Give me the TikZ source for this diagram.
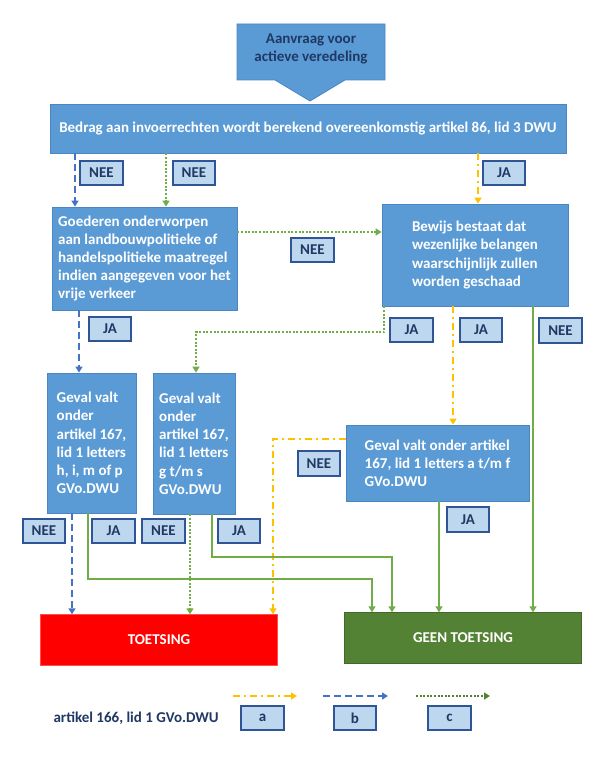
\documentclass[tikz,border=0pt]{standalone}
\usepackage{fontspec}
\setmainfont{Carlito}
\usetikzlibrary{arrows.meta}
\definecolor{vakblauw}{HTML}{5B9BD5}
\definecolor{vakrand}{HTML}{4A86C4}
\definecolor{labelblauw}{HTML}{BDD7EE}
\definecolor{labelrand}{HTML}{2F5597}
\definecolor{donkerblauw}{HTML}{203864}
\definecolor{geel}{HTML}{FFC000}
\definecolor{streepblauw}{HTML}{4472C4}
\definecolor{lichtgroen}{HTML}{70AD47}
\definecolor{donkergroen}{HTML}{548235}
\definecolor{groenrand}{HTML}{3F6B2A}
\tikzset{stap/.style={draw=vakrand, fill=vakblauw, text=white, align=left, inner sep=0pt, line width=0.8pt},
 keuze/.style={draw=labelrand, fill=labelblauw, text=donkerblauw, line width=1.6pt,
  minimum width=42.5pt, minimum height=24.5pt, inner sep=0pt},
 pijl/.style={line width=2pt, -{Triangle[width=7pt,length=6pt]}},
 geelpijl/.style={pijl, geel, dash pattern=on 7pt off 4pt on 2pt off 4pt},
 blauwpijl/.style={pijl, streepblauw, dash pattern=on 7pt off 4pt},
 stippijl/.style={pijl, lichtgroen, dash pattern=on 2pt off 1.6pt},
 groenpijl/.style={pijl, lichtgroen},
 uitkomst/.style={text=white, minimum width=237pt, minimum height=51pt, inner sep=0pt},
 }

\begin{document}
\begin{tikzpicture}[x=1pt, y=-1pt, font=\bfseries\fontsize{15}{18.2}\selectfont]
    \useasboundingbox[fill=white] (0,0) rectangle (606,757);
    \draw[vakrand, fill=vakblauw, line width=0.8pt] (237,24) -- (385,24) -- (385,80) -- (345,80)
        -- (310,101) -- (275,80) -- (237,80) -- cycle;
    \node[text=donkerblauw, align=center] (aanvraag) at (311,49) {Aanvraag voor\\actieve veredeling};
    \node[stap, minimum width=516pt, minimum height=49pt] (bedrag) at (308,128.5)
        {Bedrag aan invoerrechten wordt berekend overeenkomstig artikel 86, lid 3 DWU};
    \node[stap, minimum width=185pt, minimum height=103pt] (goed) at (144.5,258.5)
        {Goederen onderworpen\\aan landbouwpolitieke of\\handelspolitieke maatregel\\indien aangegeven voor het\\vrije verkeer};
    \node[stap, minimum width=186pt, minimum height=102pt] (bewijs) at (475,255)
        {Bewijs bestaat dat\\wezenlijke belangen\\waarschijnlijk zullen\\worden geschaad};
    \node[stap, minimum width=89pt, minimum height=140pt] (geval1) at (91.5,443)
        {Geval valt\\onder\\artikel 167,\\lid 1 letters\\h, i, m of p\\GVo.DWU};
    \node[stap, minimum width=82pt, minimum height=141pt] (geval2) at (194,443.5)
        {Geval valt\\onder\\artikel 167,\\lid 1 letters\\g t/m s\\GVo.DWU};
    \node[stap, minimum width=183pt, minimum height=76pt] (geval3) at (437.5,463)
        {Geval valt onder artikel\\167, lid 1 letters a t/m f\\GVo.DWU};
    \node[uitkomst, fill=red, draw=red!70!white] (toets) at (159,640) {TOETSING};
    \node[uitkomst, fill=donkergroen, draw=groenrand] (geen) at (463,638) {GEEN TOETSING};
    \node[keuze] (nee1) at (101.5,173) {NEE};
    \node[keuze] (nee2) at (194,173) {NEE};
    \node[keuze] (ja1) at (504,173) {JA};
    \node[keuze] (nee3) at (312.5,250) {NEE};
    \node[keuze] (ja2) at (110,329) {JA};
    \node[keuze] (ja3) at (411.5,330) {JA};
    \node[keuze] (ja4) at (481,330) {JA};
    \node[keuze] (nee4) at (560.5,330.5) {NEE};
    \node[keuze] (nee5) at (319,463.5) {NEE};
    \node[keuze] (nee6) at (44,531) {NEE};
    \node[keuze] (ja5) at (113.5,531) {JA};
    \node[keuze] (nee7) at (163.5,531) {NEE};
    \node[keuze] (ja6) at (239,531) {JA};
    \node[keuze] (ja7) at (468,519.5) {JA};
    \draw[blauwpijl] (bedrag.south -| 75,0) -- (goed.north -| 75,0);
    \draw[stippijl] (bedrag.south -| 166,0) -- (goed.north -| 166,0);
    \draw[geelpijl] (bedrag.south -| 478,0) -- (bewijs.north -| 478,0);
    \draw[stippijl] (goed.east |- 0,232) -- (bewijs.west |- 0,232);
    \draw[blauwpijl] (goed.south -| 79,0) -- (geval1.north -| 79,0);
    \draw[stippijl] (bewijs.south -| 384,0) -- ++(0,26) -| (geval2.north -| 196,0);
    \draw[geelpijl] (bewijs.south -| 453,0) -- (geval3.north -| 453,0);
    \draw[groenpijl] (bewijs.south -| 533,0) -- (geen.north -| 533,0);
    \draw[geelpijl] (geval3.west |- 0,439) -| (toets.north -| 273,0);
    \draw[blauwpijl] (geval1.south -| 72,0) -- (toets.north -| 72,0);
    \draw[groenpijl] (geval1.south -| 88,0) -- (88,579) -| (geen.north -| 372,0);
    \draw[stippijl] (geval2.south -| 190,0) -- (toets.north -| 190,0);
    \draw[groenpijl] (geval2.south -| 212,0) -- (212,557) -| (geen.north -| 392,0);
    \draw[groenpijl] (geval3.south -| 439,0) -- (geen.north -| 439,0);
    \node[anchor=west, text=donkerblauw] (legenda) at (50,718) {artikel 166, lid 1 GVo.DWU};
    \node[keuze] (a) at (262.5,718) {a};
    \node[keuze] (b) at (355,718) {b};
    \node[keuze] (c) at (449.5,718) {c};
    \coordinate (a1) at (233,696);
    \coordinate (a2) at (297,696);
    \coordinate (b1) at (323,696);
    \coordinate (b2) at (388,696);
    \coordinate (c1) at (416,696);
    \coordinate (c2) at (490,696);
    \draw[geelpijl] (a1) -- (a2);
    \draw[blauwpijl] (b1) -- (b2);
    \draw[stippijl, donkergroen] (c1) -- (c2);
\end{tikzpicture}
\end{document}
